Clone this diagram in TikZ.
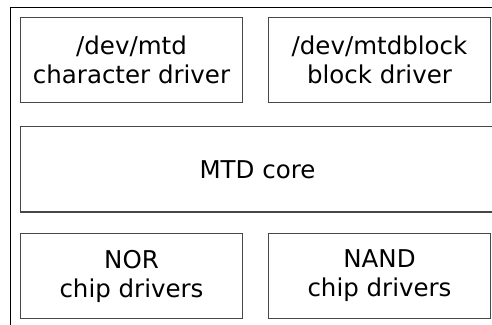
\documentclass[tikz,border=0pt]{standalone}
\usepackage{fontspec}
\setmainfont{DejaVu Sans}
\usetikzlibrary{positioning}
\tikzset{
x=1pt, y=-1pt, % pixel-like coordinates
layer/.style={draw=black!72, line width=1.5pt, outer sep=0pt, inner sep=0pt,
  minimum width=222pt, minimum height=85pt, align=center,
  font=\fontsize{24.5}{29}\selectfont}, % every box of the stack
frame/.style={draw=black, line width=1.3pt}, % the outer frame
}
\begin{document}
\begin{tikzpicture}
  \useasboundingbox (0,0) rectangle (492,324);
  \clip (0,0) rectangle (492,324);
  \draw[frame] (10.5,7.5) rectangle (600,400);

  \node[layer] (chr) at (131.5,60) {/dev/mtd\\character driver};
  \node[layer, right=26pt of chr] (blk) {/dev/mtdblock\\block driver};
  \node[layer, minimum width=474pt, minimum height=85.5pt,
        below right=24pt and 0pt of chr.south west] (core) {MTD core};
  \node[layer, below right=21.5pt and 0pt of core.south west] (nor) {NOR\\chip drivers};
  \node[layer, right=26pt of nor] (nand) {NAND\\chip drivers};
\end{tikzpicture}
\end{document}
